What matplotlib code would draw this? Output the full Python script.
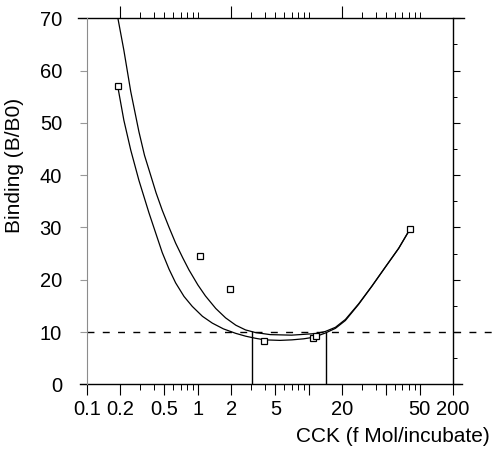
import matplotlib
matplotlib.use("Agg")
import matplotlib.pyplot as plt
from matplotlib.ticker import FixedLocator, FixedFormatter, LogLocator, NullFormatter, MultipleLocator

plt.rcParams['font.family'] = ['Liberation Sans', 'DejaVu Sans']

# measured points (CCK dose, binding B/B0)
dose = [0.19, 1.04, 1.94, 3.93, 11.0, 11.6, 82.0]
binding = [57.0, 24.6, 18.2, 8.3, 8.9, 9.3, 29.7]

# fitted curve, lower
fit_a_x = [0.19, 0.215, 0.248, 0.294, 0.362, 0.42, 0.477, 0.55, 0.63, 0.75, 0.89, 1.1,
           1.35, 1.7, 2.19, 2.7, 3.31, 4.0, 5.5, 7.06, 9.0, 11.1, 14.1, 17.4, 21.4,
           28.2, 37.2, 49.0, 64.7, 82.0]
fit_a_y = [56.8, 50.5, 44.8, 39.0, 32.8, 28.7, 25.2, 22.0, 19.4, 16.8, 14.9, 13.0,
           11.7, 10.6, 9.75, 9.2, 8.8, 8.5, 8.4, 8.5, 8.7, 9.0, 9.8, 10.7, 12.2,
           15.3, 18.8, 22.4, 26.0, 29.7]

# fitted curve, upper
fit_b_x = [0.19, 0.215, 0.248, 0.294, 0.33, 0.375, 0.42, 0.477, 0.55, 0.63, 0.73, 0.83,
           1.0, 1.17, 1.45, 1.78, 2.2, 2.69, 3.3, 4.5, 7.0, 11.5, 14.1, 17.4, 21.4,
           28.2, 37.2, 49.0, 64.7, 82.0]
fit_b_y = [70.0, 63.9, 56.0, 48.3, 43.8, 40.0, 36.6, 33.3, 30.0, 27.0, 24.2, 21.9,
           19.0, 16.9, 14.5, 12.7, 11.3, 10.4, 9.9, 9.5, 9.4, 9.7, 10.1, 10.9, 12.4,
           15.4, 18.8, 22.4, 26.0, 29.7]

# reference level and the doses where the curves cross it
ref_level = 10
cross_x = [3.06, 14.2]
cross_top = [10.2, 10.0]

x_ticks = [0.1, 0.2, 0.5, 1, 2, 5, 10, 20, 50, 100, 200]
x_tick_labels = ['0.1', '0.2', '0.5', '1', '2', '5', '', '20', '', '50', '200']
top_major = [0.2, 2, 20]
top_minor = [0.3, 0.4, 0.5, 0.6, 0.7, 0.8, 0.9, 1.0,
             3, 4, 5, 6, 7, 8, 9, 10,
             30, 40, 50, 60, 70, 80, 90, 100]
y_ticks = [0, 10, 20, 30, 40, 50, 60, 70]

W, H = 494, 455
fig = plt.figure(figsize=(W / 100, H / 100), dpi=100)
ax = fig.add_axes([87 / W, 1 - 384.3 / H, 366 / W, 366 / H])
ax.set_xscale('log')
ax.set_xlim(0.1, 200)
ax.set_ylim(0, 70)

ax.plot(fit_a_x, fit_a_y, color='k', lw=0.9)
ax.plot(fit_b_x, fit_b_y, color='k', lw=0.9)
ax.plot(dose, binding, 's', mfc='white', mec='k', ms=4, mew=0.9, zorder=5)
ax.vlines(cross_x, 0, cross_top, color='k', lw=1)
ax.axhline(ref_level, xmin=0, xmax=(493 - 87) / 366, color='k', lw=1,
           ls=(0, (5, 6)), clip_on=False)

# frame lines
ax.spines['top'].set_visible(False)
ax.spines['bottom'].set_visible(False)
ax.spines['right'].set_visible(False)
ax.spines['left'].set_color('0.55')
ax.spines['left'].set_linewidth(0.8)
ax.axhline(70, xmin=-0.025, xmax=1.03, color='k', lw=1, clip_on=False)
ax.axhline(0, xmin=-0.02, xmax=1.025, color='k', lw=1, clip_on=False)

ax.xaxis.set_major_locator(FixedLocator(x_ticks))
ax.xaxis.set_major_formatter(FixedFormatter(x_tick_labels))
ax.xaxis.set_minor_locator(LogLocator(base=10, subs=(3, 4, 6, 7, 8, 9)))
ax.xaxis.set_minor_formatter(NullFormatter())
ax.tick_params(axis='x', which='major', direction='out', length=8, width=0.8,
               pad=3, labelsize=14.5, top=False)
ax.tick_params(axis='x', which='minor', direction='out', length=4, width=0.7, top=False)

ax.yaxis.set_major_locator(FixedLocator(y_ticks))
ax.tick_params(axis='y', which='major', direction='out', length=5, width=0.8,
               color='0.6', pad=13, labelsize=14.5, right=False)

# right-hand ticks
ax2 = ax.twinx()
ax2.set_ylim(0, 70)
for s in ['top', 'bottom', 'left']:
    ax2.spines[s].set_visible(False)
ax2.spines['right'].set_linewidth(1)
ax2.yaxis.set_major_locator(MultipleLocator(10))
ax2.yaxis.set_minor_locator(MultipleLocator(5))
ax2.tick_params(axis='y', which='major', direction='out', length=5, width=0.8, labelright=False)
ax2.tick_params(axis='y', which='minor', direction='out', length=3, width=0.7)

# top ticks
ax3 = ax.twiny()
ax3.set_xscale('log')
ax3.set_xlim(0.1, 200)
for s in ['top', 'bottom', 'left', 'right']:
    ax3.spines[s].set_visible(False)
ax3.xaxis.set_major_locator(FixedLocator(top_major))
ax3.xaxis.set_minor_locator(FixedLocator(top_minor))
ax3.xaxis.set_minor_formatter(NullFormatter())
ax3.tick_params(axis='x', which='major', direction='out', length=9, width=0.8, labeltop=False)
ax3.tick_params(axis='x', which='minor', direction='out', length=4.5, width=0.7)

fig.text(490 / W, 1 - 437 / H, 'CCK (f Mol/incubate)', ha='right', va='center', fontsize=15)
fig.text(14 / W, 1 - 165 / H, 'Binding (B/B0)', ha='center', va='center',
         rotation=90, fontsize=15)

fig.savefig('out.png', dpi=100)
